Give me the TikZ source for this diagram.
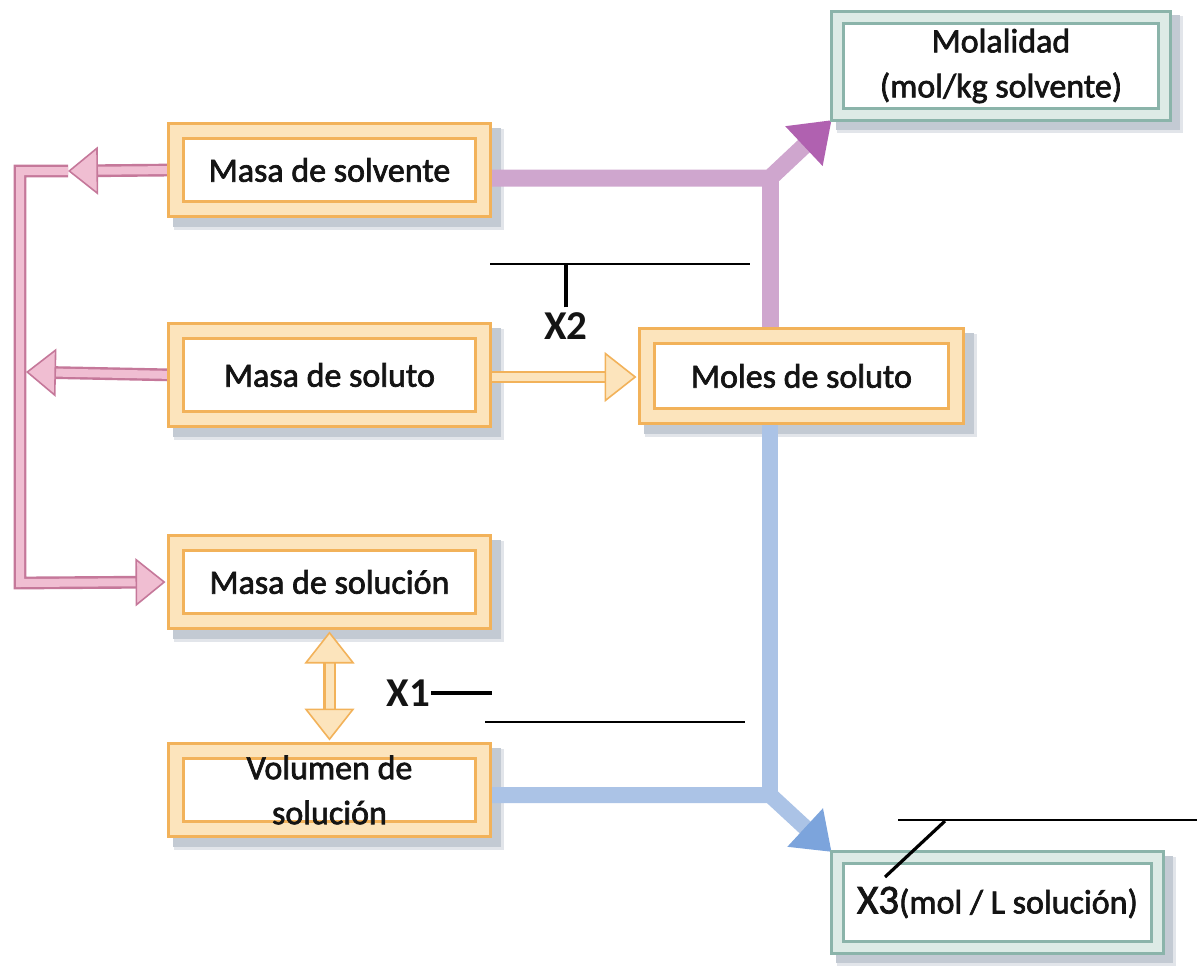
\documentclass[tikz,border=0pt]{standalone}
\usepackage{fontspec}
\setmainfont{Carlito}
\newfontfamily\boxfont{Carlito}[FakeBold=2]
\usetikzlibrary{arrows.meta}
\definecolor{orD}{HTML}{F2B25A}
\definecolor{orL}{HTML}{FCE4BC}
\definecolor{tlD}{HTML}{8BB4AA}
\definecolor{tlL}{HTML}{DDEBE6}
\definecolor{pkD}{HTML}{C5789A}
\definecolor{pkL}{HTML}{F0BED2}
\definecolor{pu}{HTML}{CFA6CE}
\definecolor{puD}{HTML}{B061B0}
\definecolor{bl}{HTML}{ABC3E6}
\definecolor{blD}{HTML}{7CA4DC}
\definecolor{txt}{HTML}{141414}
\definecolor{shA}{HTML}{E2E5EA}
\definecolor{shB}{HTML}{C3CAD3}
\pgfdeclarelayer{bg}
\pgfsetlayers{bg,main}
\tikzset{
  ortip/.tip={Triangle[width=50pt,length=32pt,fill=orL,color=orD,line width=1.6pt]},
  pktip/.tip={Triangle[width=48pt,length=30pt,fill=pkL,color=pkD,line width=1.6pt]},
  putip/.tip={Triangle[width=52pt,length=38pt,fill=puD,color=puD]},
  bltip/.tip={Triangle[width=50pt,length=36pt,fill=blD,color=blD]},
}
\begin{document}
\begin{tikzpicture}[x=1pt,y=-1pt,
  basebox/.style={fill=white, align=center, inner sep=0pt, text=txt,
    font=\boxfont\fontsize{34}{45}\selectfont},
  obox/.style={basebox, draw=orD, line width=3pt, double=orL, double distance=12pt,
    minimum width=307pt, minimum height=78pt},
  tbox/.style={basebox, draw=tlD, line width=3pt, double=tlL, double distance=9pt},
  lbl/.style={font=\bfseries\fontsize{41}{44}\selectfont, text=txt, inner sep=1pt},
  thinl/.style={line width=1.3pt, black},
  tick/.style={line width=3.2pt, black},
  pk/.style={draw=pkD, line width=2.4pt, double=pkL, double distance=8pt, line join=miter},
  orc/.style={draw=orD, line width=2.4pt, double=orL, double distance=8pt},
  pu/.style={draw=pu, line width=17pt, line join=round},
  bl/.style={draw=bl, line width=16pt, line join=round},
]
\useasboundingbox (0,0) rectangle (1197,966);

% boxes
\node[obox] (solv) at (329.5,170) {Masa de solvente};
\node[obox, minimum height=88pt] (solu) at (329.5,375) {Masa de soluto};
\node[obox] (msol) at (329.5,582) {Masa de solución};
\node[obox] (vol) at (329.5,790) {Volumen de\\solución};
\node[obox, minimum width=309pt, minimum height=80pt] (mol) at (801.5,376) {Moles de soluto};
\node[tbox, minimum width=327pt, minimum height=97pt] (mola) at (1001,66) {Molalidad\\(mol/kg solvente)};
\node[tbox, minimum width=320pt, minimum height=90pt] (x3b) at (997.5,902.5)
  {{\fontsize{41}{44}\selectfont X3}(mol / L solución)};

% labels
\node[lbl] (x2) at (566,326) {X2};
\node[lbl, anchor=east] (x1) at (431,693) {X1};

% coordinates
\coordinate (tipA) at (68,171);
\coordinate (cTop) at (20,171);
\coordinate (cBot) at (20,583);
\coordinate (tipB) at (26,372);
\coordinate (pj) at (770,178);
\coordinate (bj) at (770,795);
\coordinate (l2a) at (490,264);
\coordinate (l2b) at (750,264);
\coordinate (l1a) at (485,722);
\coordinate (l1b) at (745,722);
\coordinate (d1e) at (492,693);
\coordinate (l3a) at (898,820);
\coordinate (l3b) at (1197,820);
\coordinate (d3a) at (945,821);
\coordinate (d3b) at (885,877);

\begin{pgfonlayer}{bg}
  % shadows
  \foreach \n in {solv,solu,msol,vol,mol}{
    \fill[shA] ([shift={(-1pt,1pt)}]\n.north west) rectangle ([shift={(19pt,-19pt)}]\n.south east);
    \fill[shB] ([shift={(-2pt,2pt)}]\n.north west) rectangle ([shift={(16pt,-16pt)}]\n.south east);
  }
  \foreach \n in {mola,x3b}{
    \fill[shA] ([shift={(0.5pt,-0.5pt)}]\n.north west) rectangle ([shift={(17pt,-17pt)}]\n.south east);
    \fill[shB] ([shift={(-0.5pt,0.5pt)}]\n.north west) rectangle ([shift={(14pt,-14pt)}]\n.south east);
  }
  % purple
  \draw[pu] (mol.north -| pj) -- (pj);
  \draw[pu, -putip, shorten >=6pt]
    ([yshift=-8pt]solv.east) -- (pj) -- (mola.south west);
  % blue
  \draw[bl] (mol.south -| bj) -- (bj);
  \draw[bl, -bltip, shorten >=6pt]
    ([yshift=-5pt]vol.east) -- (bj) -- (x3b.north west);
  % pink
  \draw[pk, -pktip] (solv.west) -- (tipA);
  \draw[pk, -pktip, shorten >=9pt] (tipA) -- (cTop) -- (cBot) -- (msol.west);
  \draw[pk, -pktip] (solu.west) -- (tipB);
  % orange
  \draw[orc, -ortip, shorten >=9pt] ([yshift=-2pt]solu.east) -- ([yshift=-2pt]solu.east -| mol.west);
  \draw[orc, ortip-ortip, shorten >=9pt, shorten <=9pt] (msol.south) -- (vol.north);
\end{pgfonlayer}

% black annotation lines
\draw[thinl] (l2a) -- (l2b);
\draw[tick] ([yshift=4pt]x2.north) -- (x2.north |- l2a);
\draw[tick] (x1.east) -- (d1e);
\draw[thinl] (l1a) -- (l1b);
\draw[thinl] (l3a) -- (l3b);
\draw[tick] (d3a) -- (d3b);
\end{tikzpicture}
\end{document}
